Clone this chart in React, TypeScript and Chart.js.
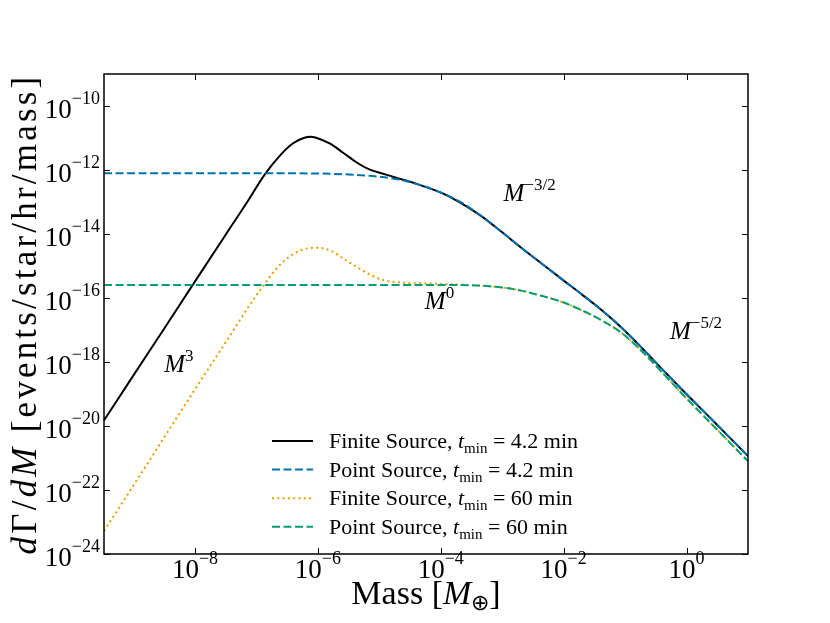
import { useEffect, useRef } from 'react'
import { Chart, registerables } from 'chart.js'
import type { Plugin } from 'chart.js'

Chart.register(...registerables)

// values: mass in Earth masses, dGamma/dM in events/star/hr/mass
const finiteShortMass = [3.31e-10, 1e-9, 3.16e-9, 1e-8, 3.16e-8, 7.24e-8, 1.35e-7, 2.51e-7, 3.89e-7, 6.03e-7, 7.59e-7, 9.33e-7, 1.55e-6, 2.57e-6, 4.17e-6, 6.46e-6, 1.2e-5, 2.29e-5, 4.27e-5, 7.94e-5, 1.48e-4, 4.57e-4, 9.77e-4, 2.04e-3, 4.37e-3, 9.33e-3, 1.95e-2, 4.17e-2, 7.24e-2, 0.129, 0.324, 0.832, 2.88, 10]
const finiteShortRate = [1.51e-20, 3.89e-19, 1.12e-17, 3.31e-16, 9.55e-15, 1.07e-13, 7.08e-13, 3.09e-12, 6.76e-12, 1.02e-11, 1.1e-11, 1.02e-11, 6.76e-12, 3.47e-12, 1.78e-12, 1.1e-12, 7.41e-13, 5.13e-13, 3.55e-13, 2.34e-13, 1.38e-13, 3.63e-14, 1.17e-14, 3.72e-15, 1.2e-15, 3.89e-16, 1.32e-16, 4.17e-17, 1.66e-17, 5.75e-18, 9.12e-19, 1.41e-19, 1.29e-20, 1.15e-21]

const pointShortMass = [3.31e-10, 1e-8, 1e-7, 1e-6, 3.16e-6, 1e-5, 2.29e-5, 4.79e-5, 1.02e-4, 2.19e-4, 4.57e-4, 9.77e-4, 2.04e-3, 4.37e-3, 9.33e-3, 1.95e-2, 4.17e-2, 7.24e-2, 0.129, 0.324, 0.832, 2.88, 10]
const pointShortRate = [7.94e-13, 7.94e-13, 7.94e-13, 7.76e-13, 7.24e-13, 6.17e-13, 4.9e-13, 3.31e-13, 1.95e-13, 9.55e-14, 3.63e-14, 1.17e-14, 3.72e-15, 1.2e-15, 3.89e-16, 1.32e-16, 4.17e-17, 1.66e-17, 5.75e-18, 9.12e-19, 1.41e-19, 1.29e-20, 1.15e-21]

const finiteLongMass = [3.31e-10, 1e-9, 3.16e-9, 1e-8, 3.16e-8, 9.33e-8, 1.35e-7, 1.95e-7, 3.02e-7, 5.37e-7, 9.77e-7, 1.66e-6, 2.69e-6, 4.47e-6, 7.41e-6, 1.2e-5, 2.57e-5, 6.92e-5, 3.16e-4, 9.77e-4, 2.04e-3, 4.37e-3, 9.33e-3, 1.95e-2, 4.17e-2, 8.91e-2, 0.191, 0.398, 0.832, 2.88, 10]
const finiteLongRate = [5.25e-24, 1.41e-22, 4.47e-21, 1.41e-19, 4.17e-18, 1.02e-16, 2.69e-16, 6.92e-16, 1.62e-15, 3.16e-15, 3.72e-15, 2.95e-15, 1.62e-15, 8.91e-16, 5.13e-16, 3.55e-16, 3.02e-16, 2.82e-16, 2.51e-16, 2.14e-16, 1.7e-16, 1.17e-16, 7.59e-17, 4.17e-17, 2e-17, 7.94e-18, 2.09e-18, 4.79e-19, 1.05e-19, 9.12e-21, 7.94e-22]

const pointLongMass = [3.31e-10, 1e-8, 1e-6, 1e-4, 3.16e-4, 9.77e-4, 2.04e-3, 4.37e-3, 9.33e-3, 1.95e-2, 4.17e-2, 8.91e-2, 0.191, 0.398, 0.832, 2.88, 10]
const pointLongRate = [2.57e-16, 2.57e-16, 2.57e-16, 2.57e-16, 2.51e-16, 2.14e-16, 1.7e-16, 1.17e-16, 7.59e-17, 4.17e-17, 2e-17, 7.94e-18, 2.09e-18, 4.79e-19, 1.05e-19, 9.12e-21, 7.94e-22]

const seriesNames = ['Finite Source', 'Point Source', 'Finite Source', 'Point Source']
const seriesTmin = ['4.2', '4.2', '60', '60']

const xTicks = [1e-8, 1e-6, 1e-4, 1e-2, 1]
const xTickExp = ['−8', '−6', '−4', '−2', '0']
const yTicks = [1e-24, 1e-22, 1e-20, 1e-18, 1e-16, 1e-14, 1e-12, 1e-10]
const yTickExp = ['−24', '−22', '−20', '−18', '−16', '−14', '−12', '−10']

// power-law slope notes
const slopeMass = [3.16e-9, 5.5e-5, 1.05e-3, 0.537]
const slopeRate = [5e-19, 4.47e-17, 1.07e-13, 5.13e-18]
const slopeExp = ['3', '0', '−3/2', '−5/2']

const SERIF = '"Liberation Serif", "Times New Roman", serif'

type Run = { t: string; px: number; it?: boolean; dy?: number }
const fontOf = (r: Run) => `${r.it ? 'italic ' : ''}${r.px}px ${SERIF}`

function widthOf(ctx: CanvasRenderingContext2D, runs: Run[]) {
  let w = 0
  for (const r of runs) {
    ctx.font = fontOf(r)
    w += ctx.measureText(r.t).width
  }
  return w
}

function drawRuns(ctx: CanvasRenderingContext2D, runs: Run[], x: number, y: number) {
  let cx = x
  for (const r of runs) {
    ctx.font = fontOf(r)
    ctx.fillText(r.t, cx, y + (r.dy ?? 0))
    cx += ctx.measureText(r.t).width
  }
}

const pow10 = (exp: string): Run[] => [
  { t: '10', px: 27 },
  { t: exp, px: 18, dy: -14 },
]

const toPoints = (xs: number[], ys: number[]) => xs.map((x, i) => ({ x, y: ys[i] }))

const figurePlugin: Plugin<'line'> = {
  id: 'figure',
  afterDatasetsDraw(chart) {
    const { ctx, chartArea: a } = chart
    const sx = chart.scales.x
    const sy = chart.scales.y
    ctx.save()
    ctx.strokeStyle = '#000'
    ctx.lineWidth = 1
    ctx.beginPath()
    xTicks.forEach(v => {
      const px = Math.round(sx.getPixelForValue(v)) + 0.5
      ctx.moveTo(px, a.bottom)
      ctx.lineTo(px, a.bottom - 6)
      ctx.moveTo(px, a.top)
      ctx.lineTo(px, a.top + 6)
    })
    yTicks.forEach(v => {
      const py = Math.round(sy.getPixelForValue(v)) + 0.5
      ctx.moveTo(a.left, py)
      ctx.lineTo(a.left + 6, py)
      ctx.moveTo(a.right, py)
      ctx.lineTo(a.right - 6, py)
    })
    ctx.stroke()
    ctx.lineWidth = 1.5
    ctx.strokeRect(a.left, a.top, a.right - a.left, a.bottom - a.top)
    ctx.restore()
  },
  afterDraw(chart) {
    const { ctx, chartArea: a } = chart
    const sx = chart.scales.x
    const sy = chart.scales.y
    ctx.save()
    ctx.fillStyle = '#000'
    ctx.textAlign = 'left'
    ctx.textBaseline = 'alphabetic'

    // tick labels
    xTicks.forEach((v, i) => {
      const runs = pow10(xTickExp[i])
      const w = widthOf(ctx, runs)
      drawRuns(ctx, runs, sx.getPixelForValue(v) - w / 2, a.bottom + 24)
    })
    yTicks.forEach((v, i) => {
      const runs = pow10(yTickExp[i])
      const w = widthOf(ctx, runs)
      drawRuns(ctx, runs, a.left - 4 - w, sy.getPixelForValue(v) + 11.5)
    })

    // axis titles
    const xTitle: Run[] = [
      { t: 'Mass [', px: 34 },
      { t: 'M', px: 34, it: true },
      { t: '⊕', px: 22, dy: 6 },
      { t: ']', px: 34 },
    ]
    const xw = widthOf(ctx, xTitle)
    drawRuns(ctx, xTitle, (a.left + a.right) / 2 - xw / 2, a.bottom + 50)

    const yTitle: Run[] = [
      { t: 'd', px: 35, it: true },
      { t: 'Γ', px: 35 },
      { t: '/', px: 35 },
      { t: 'dM', px: 35, it: true },
      { t: ' [events/star/hr/mass]', px: 35 },
    ]
    ctx.save()
    ;(ctx as any).letterSpacing = '3.2px'
    const yw = widthOf(ctx, yTitle)
    ctx.translate(36, (a.top + a.bottom) / 2)
    ctx.rotate(-Math.PI / 2)
    drawRuns(ctx, yTitle, -yw / 2, 0)
    ctx.restore()

    // slope notes
    slopeMass.forEach((m, i) => {
      drawRuns(
        ctx,
        [
          { t: 'M', px: 25, it: true },
          { t: slopeExp[i], px: 17, dy: -11 },
        ],
        sx.getPixelForValue(m),
        sy.getPixelForValue(slopeRate[i]),
      )
    })

    // legend
    chart.data.datasets.forEach((ds: any, i) => {
      const y = a.bottom - 113 + i * 28.6
      ctx.save()
      ctx.strokeStyle = ds.borderColor
      ctx.lineWidth = ds.borderWidth
      ctx.lineCap = 'butt'
      ctx.setLineDash(ds.borderDash ?? [])
      ctx.beginPath()
      ctx.moveTo(a.left + 168, y)
      ctx.lineTo(a.left + 209, y)
      ctx.stroke()
      ctx.restore()
      drawRuns(
        ctx,
        [
          { t: `${seriesNames[i]}, `, px: 22 },
          { t: 't', px: 22, it: true },
          { t: 'min', px: 15, dy: 5 },
          { t: ` = ${seriesTmin[i]} min`, px: 22 },
        ],
        a.left + 225,
        y + 7,
      )
    })
    ctx.restore()
  },
}

export default function App() {
  const canvasRef = useRef<HTMLCanvasElement>(null)
  const chartRef = useRef<Chart | null>(null)

  useEffect(() => {
    document.body.style.margin = '0'
    if (!canvasRef.current) return
    chartRef.current?.destroy()

    chartRef.current = new Chart(canvasRef.current, {
      type: 'line',
      data: {
        datasets: [
          {
            label: 'Finite Source, t_min = 4.2 min',
            data: toPoints(finiteShortMass, finiteShortRate),
            borderColor: '#000000',
            borderWidth: 2,
            order: 3,
          },
          {
            label: 'Point Source, t_min = 4.2 min',
            data: toPoints(pointShortMass, pointShortRate),
            borderColor: '#0072B2',
            borderWidth: 2,
            borderDash: [8, 3.5],
            order: 2,
          },
          {
            label: 'Finite Source, t_min = 60 min',
            data: toPoints(finiteLongMass, finiteLongRate),
            borderColor: '#E69F00',
            borderWidth: 2,
            borderDash: [2, 3.3],
            order: 1,
          },
          {
            label: 'Point Source, t_min = 60 min',
            data: toPoints(pointLongMass, pointLongRate),
            borderColor: '#009E73',
            borderWidth: 2,
            borderDash: [8, 3.5],
            order: 0,
          },
        ],
      },
      options: {
        responsive: false,
        animation: false,
        events: [],
        layout: { padding: { left: 104, right: 82, top: 74, bottom: 69 } },
        elements: {
          point: { radius: 0 },
          line: { cubicInterpolationMode: 'monotone', borderCapStyle: 'butt', fill: false },
        },
        plugins: { legend: { display: false }, tooltip: { enabled: false } },
        scales: {
          x: {
            type: 'logarithmic',
            min: 3.3e-10,
            max: 10,
            ticks: { display: false },
            grid: { display: false, drawTicks: false },
            border: { display: false },
          },
          y: {
            type: 'logarithmic',
            min: 1e-24,
            max: 1e-9,
            ticks: { display: false },
            grid: { display: false, drawTicks: false },
            border: { display: false },
          },
        },
      },
      plugins: [figurePlugin],
    })

    return () => chartRef.current?.destroy()
  }, [])

  return <canvas ref={canvasRef} width={830} height={623} />
}
